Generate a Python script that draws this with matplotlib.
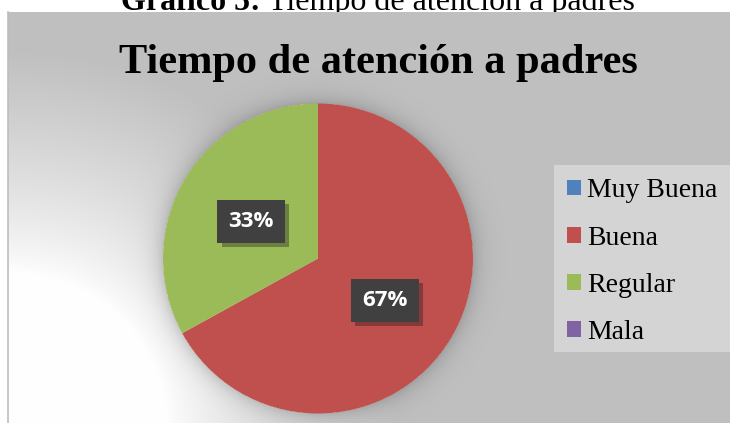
import numpy as np
import matplotlib
matplotlib.use("Agg")
import matplotlib.pyplot as plt
import matplotlib.patheffects as pe
from matplotlib.patches import Rectangle

# ---- data ----
categories = ["Muy Buena", "Buena", "Regular", "Mala"]
values = [0, 67, 33, 0]
colors = ["#4f81bd", "#c0504d", "#9bbb59", "#8064a2"]
title = "Tiempo de atención a padres"
caption_bold = "Gráfico 5:"
caption_rest = "Tiempo de atención a padres"

W, H = 730, 423
fig = plt.figure(figsize=(W / 100, H / 100), dpi=100)
fig.patch.set_facecolor("white")

# background axes in pixel coordinates
bg = fig.add_axes([0, 0, 1, 1])
bg.axis("off")

serif = "Liberation Serif"

# chart area gradient background
x0, y0 = 8, 12
xs = np.arange(x0, W) + 0.5
ys = np.arange(y0, H) + 0.5
X, Y = np.meshgrid(xs, ys)
d = np.hypot((X - 8) * 0.95, Y - 423)
t = np.clip((d - 150) / 220.0, 0, 1) ** 0.8
img = 255 - (255 - 192) * t
# soft shadow around the pie
cx, cy, rad = 318, 258.5, 155
dp = np.hypot(X - cx, Y - cy) - rad
sh = np.where(dp > 0, 0.16 * np.exp(-dp / 10.0), 0)
img = img * (1 - sh)
rgb = np.dstack([img, img, img]) / 255.0
bg.imshow(rgb, extent=(x0, W, H, y0), zorder=1, interpolation="bilinear",
          aspect="auto")
bg.set_xlim(0, W)
bg.set_ylim(H, 0)
bg.plot([x0, x0], [y0, H], color="#bdbdbd", lw=1.2, zorder=2)

# caption partly hidden above the chart area
t1 = bg.text(121, 10, caption_bold, fontfamily=serif, fontweight="bold",
             fontsize=23, ha="left", va="baseline", zorder=0)
fig.canvas.draw()
r = fig.canvas.get_renderer()
bb = t1.get_window_extent(r)
bg.text(bb.x1 + 7, 10, caption_rest, fontfamily=serif, fontsize=23,
        ha="left", va="baseline", zorder=0)

# legend background
bg.add_patch(Rectangle((554, 165), W - 554, 352 - 165, facecolor="#d4d4d4",
                       edgecolor="none", zorder=2))

# title
bg.text(378, 72.5, title, fontfamily=serif, fontweight="bold", fontsize=30.5,
        ha="center", va="baseline", zorder=3)

# pie
ax = fig.add_axes([(cx - rad) / W, (H - cy - rad) / H, 2 * rad / W, 2 * rad / H])
wedges, texts, autotexts = ax.pie(values, colors=colors, startangle=90,
                                  counterclock=False, radius=1,
                                  autopct=lambda p: f"{p:.0f}%" if p > 0 else "",
                                  pctdistance=0.5,
                                  wedgeprops=dict(linewidth=0))
ax.set_xlim(-1, 1)
ax.set_ylim(-1, 1)
ax.axis("off")
for at in autotexts:
    if at.get_text():
        at.set_color("white")
        at.set_fontfamily("Open Sans")
        at.set_fontweight("bold")
        at.set_fontsize(16)
        at.set_va("center_baseline")
        at.set_bbox(dict(boxstyle="square,pad=0.5", facecolor="#404040",
                         edgecolor="none"))
        at.get_bbox_patch().set_path_effects(
            [pe.SimplePatchShadow(offset=(3, -3), alpha=0.35), pe.Normal()])

leg = fig.legend(wedges, categories, loc="upper left",
                 bbox_to_anchor=(559 / W, 1 - 170 / H),
                 bbox_transform=fig.transFigure,
                 prop=dict(family=serif, size=20), frameon=False,
                 handlelength=0.5, handleheight=0.5, handletextpad=0.22,
                 labelspacing=0.8, borderpad=0.3, borderaxespad=0)

fig.savefig("out.png", dpi=100)
